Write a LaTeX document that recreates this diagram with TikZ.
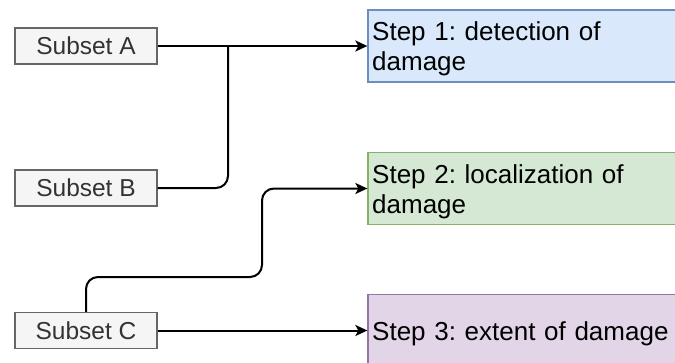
\documentclass[tikz,border=0pt]{standalone}
\usepackage{fontspec}
\setmainfont{Liberation Sans}
\usetikzlibrary{arrows.meta}
\definecolor{subfill}{HTML}{F5F5F5}
\definecolor{subdraw}{HTML}{666666}
\definecolor{subtext}{HTML}{333333}
\definecolor{bluefill}{HTML}{DAE8FC}
\definecolor{bluedraw}{HTML}{6C8EBF}
\definecolor{greenfill}{HTML}{D5E8D4}
\definecolor{greendraw}{HTML}{82B366}
\definecolor{purplefill}{HTML}{E1D5E7}
\definecolor{purpledraw}{HTML}{9673A6}
\tikzset{
  subsetbox/.style={draw=subdraw, fill=subfill, text=subtext, line width=1.3pt,
    minimum width=142pt, minimum height=36pt, inner sep=0pt,
    font=\fontsize{24.5}{29}\selectfont\frenchspacing},
  stepbox/.style={line width=1.3pt, minimum width=312pt, minimum height=72pt, inner sep=0pt},
  steptext/.style={anchor=base west, inner sep=0pt, text width=300pt, align=left,
    font=\fontsize{26}{30.7}\selectfont\frenchspacing},
  conn/.style={line width=2pt, rounded corners=12pt},
  arr/.style={conn, -{Stealth[length=12pt,width=11pt,inset=3pt]}}
}
\begin{document}
\begin{tikzpicture}[x=1pt,y=-1pt]
\useasboundingbox (0,0) rectangle (675,362);
\clip (0,0) rectangle (675,362);
\fill[white] (0,0) rectangle (675,362);
\node[subsetbox] (A) at (86,46) {Subset A};
\node[subsetbox] (B) at (86,188) {Subset B};
\node[subsetbox] (C) at (86,330.5) {Subset C};
\node[stepbox, draw=bluedraw, fill=bluefill] (S1) at (524,46) {};
\node[stepbox, draw=greendraw, fill=greenfill] (S2) at (524,188.5) {};
\node[stepbox, draw=purpledraw, fill=purplefill] (S3) at (524,330.5) {};
\node[steptext] (T1) at (372,40) {Step 1: detection of\\damage};
\node[steptext] (T2) at (372,183) {Step 2: localization of\\damage};
\node[steptext] (T3) at (372,340) {Step 3: extent of damage};
\coordinate (j) at (228,46);
\coordinate (c1) at (262,277);
\draw[arr] (A.east) -- (S1.west);
\draw[conn] (B.east) -| (j);
\draw[arr] (C.north) |- (c1) |- (S2.west);
\draw[arr] (C.east) -- (S3.west);
\end{tikzpicture}
\end{document}
